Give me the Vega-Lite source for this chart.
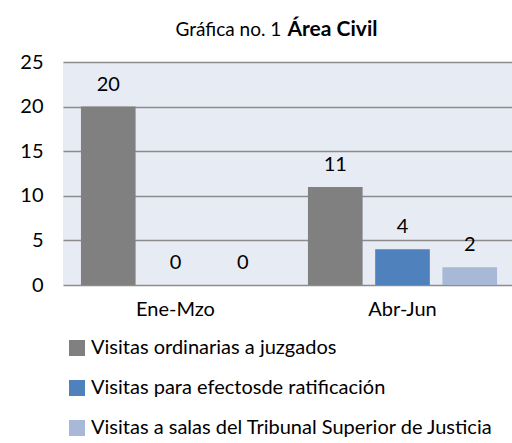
{
  "$schema": "https://vega.github.io/schema/vega-lite/v6.json",
  "width": 452,
  "height": 223,
  "autosize": {"type": "none"},
  "padding": {"left": 63, "top": 62, "right": 0, "bottom": 158},
  "background": "white",
  "config": {
    "view": {"fill": "#e7ebf4", "stroke": null},
    "font": "Lato"
  },
  "data": {
    "values": [
      {"period": "Ene-Mzo", "series": "Visitas ordinarias a juzgados", "value": 20},
      {"period": "Ene-Mzo", "series": "Visitas para efectosde ratificación", "value": 0},
      {"period": "Ene-Mzo", "series": "Visitas a salas del Tribunal Superior de Justicia", "value": 0},
      {"period": "Abr-Jun", "series": "Visitas ordinarias a juzgados", "value": 11},
      {"period": "Abr-Jun", "series": "Visitas para efectosde ratificación", "value": 4},
      {"period": "Abr-Jun", "series": "Visitas a salas del Tribunal Superior de Justicia", "value": 2}
    ]
  },
  "encoding": {
    "x": {"field": "period", "type": "nominal", "sort": ["Ene-Mzo", "Abr-Jun"],
      "scale": {"paddingInner": 0.167, "paddingOuter": 0.079},
      "axis": {"title": "Gráfica no. 1", "titleFont": "Lato", "titleFontSize": 19, "titleFontWeight": "normal", "titleColor": "#000000", "titleX": 112, "titleY": -250, "titleAlign": "left", "titleBaseline": "alphabetic", "titleAnchor": null,
        "labelAngle": 0, "labelFont": "Lato", "labelFontSize": 20, "labelColor": "#000000", "labelPadding": 14, "ticks": false, "domain": false}},
    "xOffset": {"field": "series", "type": "nominal",
      "sort": ["Visitas ordinarias a juzgados", "Visitas para efectosde ratificación", "Visitas a salas del Tribunal Superior de Justicia"],
      "scale": {"paddingInner": 0.187, "paddingOuter": 0}},
    "y": {"field": "value", "type": "quantitative", "scale": {"domain": [0, 25]},
      "axis": {"title": "Área Civil", "titleFont": "Lato", "titleFontSize": 21, "titleFontWeight": "bold", "titleColor": "#000000", "titleAngle": 0, "titleX": 224, "titleY": -27, "titleAlign": "left", "titleBaseline": "alphabetic", "titleAnchor": null,
        "values": [0, 5, 10, 15, 20, 25], "labelFont": "Lato", "labelFontSize": 20, "labelColor": "#000000", "labelPadding": 20, "ticks": false, "domain": false, "grid": true, "gridColor": "#8c8c8c", "gridWidth": 1.5}}
  },
  "layer": [
    {
      "mark": {"type": "bar"},
      "encoding": {
        "color": {"field": "series", "type": "nominal",
          "sort": ["Visitas ordinarias a juzgados", "Visitas para efectosde ratificación", "Visitas a salas del Tribunal Superior de Justicia"],
          "scale": {"domain": ["Visitas ordinarias a juzgados", "Visitas para efectosde ratificación", "Visitas a salas del Tribunal Superior de Justicia"], "range": ["#808080", "#4f81bd", "#a8b9d8"]},
          "legend": {"title": null, "orient": "none", "legendX": 4, "legendY": 276, "direction": "vertical", "symbolType": "square", "symbolSize": 256, "symbolStrokeWidth": 0, "labelFont": "Lato", "labelFontSize": 20, "labelColor": "#000000", "labelOffset": 4, "rowPadding": 20, "labelLimit": 500}}
      }
    },
    {
      "mark": {"type": "text", "baseline": "bottom", "dy": -12, "font": "Lato", "fontSize": 20, "color": "#000000"},
      "encoding": {"text": {"field": "value", "type": "quantitative"}}
    }
  ]
}
